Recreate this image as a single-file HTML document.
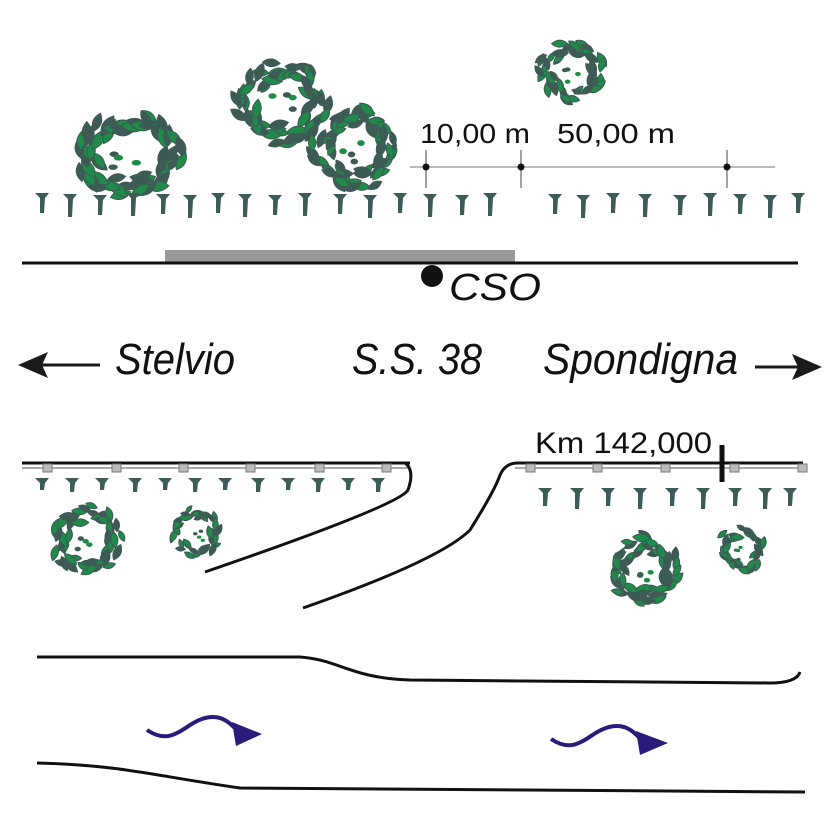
<!DOCTYPE html>
<html><head><meta charset="utf-8"><style>
html,body{margin:0;padding:0;background:#fff}
svg{display:block}
text{font-family:"Liberation Sans Narrow","Liberation Sans",sans-serif}
</style></head><body>
<svg id="s" width="827" height="827" viewBox="0 0 827 827" xmlns="http://www.w3.org/2000/svg">
<g id="trees"></g>
<g id="pegs" fill="#3d5c58"></g>
<!-- road -->
<rect x="165" y="250" width="350" height="12" fill="#999"/>
<line x1="22" y1="263" x2="798" y2="263" stroke="#111" stroke-width="3"/>
<circle cx="432" cy="276" r="11" fill="#111"/>
<text x="449" y="300" font-size="38" font-style="italic" font-family="Liberation Sans" textLength="92" lengthAdjust="spacingAndGlyphs" fill="#111">CSO</text>
<!-- scale -->
<line x1="410" y1="167" x2="775" y2="167" stroke="#777" stroke-width="1"/>
<g stroke="#444" stroke-width="1"><line x1="426" y1="150" x2="426" y2="188"/><line x1="521" y1="150" x2="521" y2="188"/><line x1="727" y1="150" x2="727" y2="188"/></g>
<g fill="#111"><circle cx="426" cy="167" r="3.5"/><circle cx="521" cy="167" r="3.5"/><circle cx="727" cy="167" r="3.5"/></g>
<text x="420" y="143" font-size="28" font-family="Liberation Sans" textLength="110" lengthAdjust="spacingAndGlyphs" fill="#111">10,00 m</text>
<text x="557" y="143" font-size="28" font-family="Liberation Sans" textLength="118" lengthAdjust="spacingAndGlyphs" fill="#111">50,00 m</text>
<!-- direction row -->
<line x1="100" y1="365" x2="40" y2="365" stroke="#1a1a1a" stroke-width="3"/>
<path d="M18,365 L48,352 L42,365 L48,378 Z" fill="#1a1a1a"/>
<line x1="755" y1="367" x2="800" y2="367" stroke="#1a1a1a" stroke-width="3"/>
<path d="M822,367 L792,354 L798,367 L792,380 Z" fill="#1a1a1a"/>
<text x="115" y="374" font-size="44" font-style="italic" textLength="120" lengthAdjust="spacingAndGlyphs" fill="#111">Stelvio</text>
<text x="352" y="374" font-size="44" font-style="italic" textLength="130" lengthAdjust="spacingAndGlyphs" fill="#111">S.S. 38</text>
<text x="543" y="374" font-size="44" font-style="italic" textLength="195" lengthAdjust="spacingAndGlyphs" fill="#111">Spondigna</text>
<!-- lower roads -->
<line x1="22" y1="468" x2="410" y2="468" stroke="#555" stroke-width="1"/>
<line x1="22" y1="463" x2="410" y2="463" stroke="#111" stroke-width="3"/>
<path d="M405,463 Q415,470 408,490 Q400,505 205,572" fill="none" stroke="#111" stroke-width="3"/>
<line x1="515" y1="468" x2="803" y2="468" stroke="#555" stroke-width="1"/>
<path d="M303,608 Q440,560 470,530 Q495,490 500,475 Q505,463 518,463 L803,463" fill="none" stroke="#111" stroke-width="3"/>
<line x1="722" y1="445" x2="722" y2="482" stroke="#111" stroke-width="5"/>
<text x="535" y="453" font-size="30" font-family="Liberation Sans" textLength="177" lengthAdjust="spacingAndGlyphs" fill="#111">Km 142,000</text>
<g fill="#bbb" stroke="#777" stroke-width="1" id="sq"></g>
<!-- river -->
<path d="M37,657 L300,657 C340,660 350,678 410,680 L770,683 C790,683 798,678 800,672" fill="none" stroke="#111" stroke-width="3"/>
<path d="M37,763 C120,765 150,775 240,788 L805,792" fill="none" stroke="#111" stroke-width="3"/>
<g fill="none" stroke="#2a1a7a" stroke-width="4">
<path d="M147,730 C165,742 175,735 190,725 C210,712 225,715 238,732"/>
<path d="M551,739 C569,751 579,744 594,734 C614,721 629,724 642,741"/>
</g>
<g fill="#2a1a7a"><path d="M232,722 L262,734 L236,746 Z"/><path d="M636,731 L668,743 L640,755 Z"/></g>
</svg>
<script>
var NS="http://www.w3.org/2000/svg",s=document.getElementById('s');
function el(p,t,a){var e=document.createElementNS(NS,t);for(var k in a)e.setAttribute(k,a[k]);p.appendChild(e);return e;}
var T=document.getElementById('trees');
function tree(cx,cy,rx,ry){var n=Math.round((rx+ry)*0.7),seed=cx*7+cy;
function r(){seed=(seed*9301+49297)%233280;return seed/233280;}
for(var i=0;i<n;i++){var a=i/n*2*Math.PI+r()*0.3,f=0.55+r()*0.5;
var x=cx+Math.cos(a)*rx*f,y=cy+Math.sin(a)*ry*f,L=rx*0.17+r()*3,W=L*0.55;
var d='M'+(x-L)+','+y+' Q'+x+','+(y-W*1.6)+' '+(x+L)+','+y+' Q'+x+','+(y+W*1.6)+' '+(x-L)+','+y+' Z';
el(T,'path',{d:d,fill:(i%2?'#1f8a4a':'#3e5a55'),stroke:'#3e5a55','stroke-width':1,transform:'rotate('+(a*180/Math.PI+80*r()-40+90)+' '+x+' '+y+')'});}
for(var j=0;j<4;j++){var x2=cx+(r()-0.5)*rx*0.6,y2=cy+(r()-0.3)*ry*0.6;el(T,'ellipse',{cx:x2,cy:y2,rx:rx*0.09,ry:ry*0.07,fill:(j%2?'#1f8a4a':'#3e5a55')});}}
tree(128,155,52,40);tree(283,102,45,40);tree(355,148,42,42);tree(572,70,32,30);
tree(88,540,35,33);tree(196,532,25,23);tree(645,570,35,33);tree(741,550,24,23);
var P=document.getElementById('pegs');
function peg(x,y,h){el(P,'path',{d:'M'+(x-7)+','+y+' L'+(x+7)+','+y+' L'+(x+3)+','+(y+5)+' L'+(x+2)+','+(y+h)+' L'+(x-2)+','+(y+h)+' L'+(x-2)+','+(y+5)+' Z'});}
[42,70,100,133,163,190,218,245,275,305,340,370,400,430,462,490,555,583,613,645,680,710,740,770,798].forEach(function(x,i){peg(x,193+(i%3),20+(i%2)*3);});
[42,72,102,135,165,195,225,258,288,318,348,378].forEach(function(x,i){peg(x,478,12+(i%2)*2);});
[545,577,608,640,672,703,735,765,790].forEach(function(x,i){peg(x,488,18+(i%2)*3);});
var Q=document.getElementById('sq');
[48,117,184,251,320,387,531,598,666,735,803].forEach(function(x){el(Q,'rect',{x:x-5,y:464,width:9,height:8});});
</script>
</body></html>
